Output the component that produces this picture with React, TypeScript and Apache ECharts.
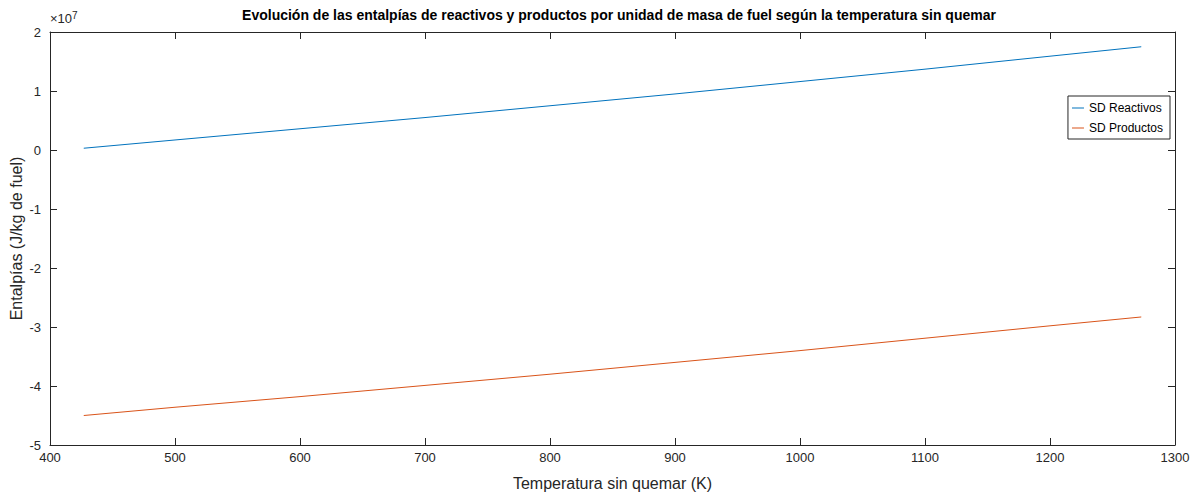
import React, { useEffect, useRef } from "react";
import * as echarts from "echarts";

const temps = [427, 500, 600, 700, 800, 900, 1000, 1100, 1200, 1273];
const reactivos = [0.03e7, 0.17e7, 0.36e7, 0.55e7, 0.75e7, 0.95e7, 1.16e7, 1.37e7, 1.59e7, 1.75e7];
const productos = [-4.5e7, -4.36e7, -4.18e7, -3.99e7, -3.8e7, -3.6e7, -3.4e7, -3.19e7, -2.98e7, -2.83e7];
const seriesNames = ["SD Reactivos", "SD Productos"];
const titleText = "Evolución de las entalpías de reactivos y productos por unidad de masa de fuel según la temperatura sin quemar";
const xName = "Temperatura sin quemar (K)";
const yName = "Entalpías (J/kg de fuel)";

const AX = "#262626";
const FONT = "Liberation Sans, Arial, sans-serif";

export default function App() {
  const ref = useRef<HTMLDivElement>(null);
  useEffect(() => {
    if (!ref.current) return;
    const chart = echarts.init(ref.current, null, { renderer: "svg" });
    const axisCommon = {
      axisLine: { show: true, onZero: false, lineStyle: { color: AX, width: 1 } },
      axisTick: { show: true, inside: true, length: 7, lineStyle: { color: AX } },
      splitLine: { show: false },
    };
    chart.setOption({
      animation: false,
      backgroundColor: "#fff",
      textStyle: { fontFamily: FONT },
      title: {
        text: titleText,
        left: 614,
        textAlign: "center",
        top: 3,
        textStyle: { fontSize: 14, fontWeight: "bold", color: "#000", fontFamily: FONT },
      },
      grid: { left: 50, right: 24, top: 32, bottom: 54, containLabel: false, outerBoundsMode: "none" },
      legend: {
        data: seriesNames,
        orient: "vertical",
        right: 29,
        top: 96,
        borderColor: AX,
        borderWidth: 1,
        backgroundColor: "#fff",
        padding: [6, 7, 5, 4],
        itemGap: 8,
        itemWidth: 12,
        itemHeight: 1,
        icon: "rect",
        textStyle: { fontSize: 12, color: "#000", fontFamily: FONT },
      },
      xAxis: [
        {
          type: "value",
          min: 400,
          max: 1300,
          interval: 100,
          name: xName,
          nameLocation: "middle",
          nameGap: 30,
          nameMoveOverlap: false,
          nameTextStyle: { fontSize: 16, color: AX, fontFamily: FONT },
          axisLabel: {
            fontSize: 13,
            color: AX,
            margin: 6,
            fontFamily: FONT,
            formatter: (v: number) => String(Math.round(v)),
          },
          ...axisCommon,
        },
        {
          type: "value",
          position: "top",
          min: 400,
          max: 1300,
          interval: 100,
          axisLabel: { show: false },
          ...axisCommon,
        },
      ],
      yAxis: [
        {
          type: "value",
          min: -5,
          max: 2,
          interval: 1,
          name: yName,
          nameLocation: "middle",
          nameGap: 26,
          nameMoveOverlap: false,
          nameTextStyle: { fontSize: 16, color: AX, fontFamily: FONT },
          axisLabel: {
            fontSize: 13,
            color: AX,
            margin: 9,
            fontFamily: FONT,
            formatter: (v: number) => String(Math.round(v)),
          },
          ...axisCommon,
        },
        {
          type: "value",
          position: "right",
          min: -5,
          max: 2,
          interval: 1,
          axisLabel: { show: false },
          ...axisCommon,
        },
      ],
      graphic: [
        {
          type: "text",
          left: 50,
          top: 10,
          style: {
            text: "×10{s|7}",
            rich: { s: { fontSize: 10, verticalAlign: "top", padding: [0, 0, 7, 0], fill: AX } },
            fontSize: 13,
            fill: AX,
            fontFamily: FONT,
          },
        },
      ],
      series: [
        {
          name: seriesNames[0],
          type: "line",
          data: temps.map((t, i) => [t, reactivos[i] / 1e7]),
          showSymbol: false,
          smooth: false,
          lineStyle: { color: "#0072BD", width: 1 },
          itemStyle: { color: "#0072BD" },
        },
        {
          name: seriesNames[1],
          type: "line",
          data: temps.map((t, i) => [t, productos[i] / 1e7]),
          showSymbol: false,
          smooth: false,
          lineStyle: { color: "#D95319", width: 1 },
          itemStyle: { color: "#D95319" },
        },
      ],
    });
    return () => chart.dispose();
  }, []);
  return (
    <div
      ref={ref}
      style={{ position: "fixed", left: 0, top: 0, width: 1199, height: 499, background: "#fff" }}
    />
  );
}
